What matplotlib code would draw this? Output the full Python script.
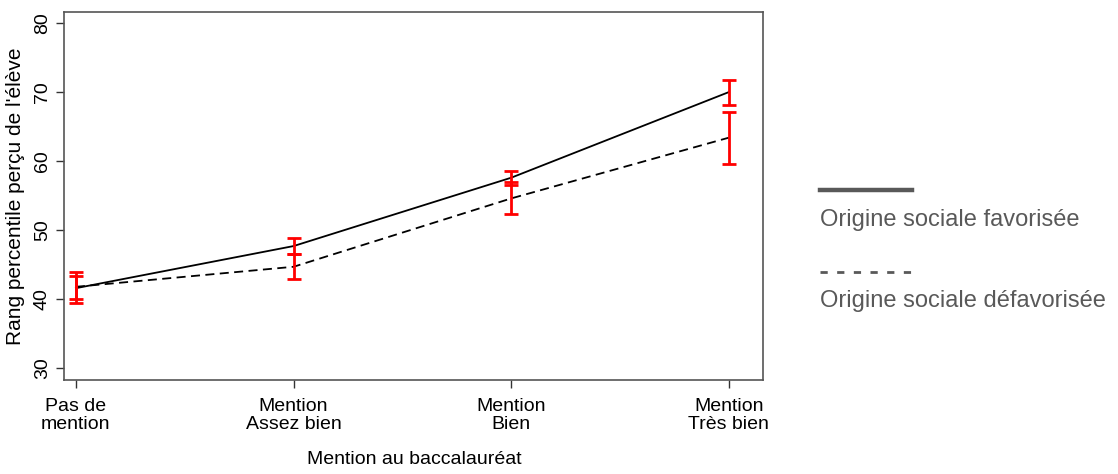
import numpy as np
import matplotlib.pyplot as plt
from matplotlib.lines import Line2D

plt.rcParams['font.family'] = ['Liberation Sans', 'DejaVu Sans']

# données
categories = ['Pas de\nmention', 'Mention\nAssez bien', 'Mention\nBien', 'Mention\nTrès bien']
fav = [41.6, 47.7, 57.6, 70.0]
fav_low = [40.0, 46.5, 56.6, 68.2]
fav_high = [43.3, 48.9, 58.6, 71.8]
defav = [41.8, 44.7, 54.6, 63.4]
defav_low = [39.5, 43.0, 52.3, 59.6]
defav_high = [44.0, 46.5, 57.0, 67.1]
yticks = [30, 40, 50, 60, 70, 80]

fig = plt.figure(figsize=(11.18, 4.74), dpi=100)
ax = fig.add_axes([0.0572, 0.1983, 0.6253, 0.7764])

x = np.arange(len(categories))
fav = np.array(fav)
defav = np.array(defav)

ax.plot(x, fav, color='black', lw=1.3, zorder=3)
ax.plot(x, defav, color='black', lw=1.3, ls=(0, (5, 3)), zorder=3)

# intervalles de confiance
ax.errorbar(x, fav, yerr=[fav - np.array(fav_low), np.array(fav_high) - fav],
            fmt='none', ecolor='red', elinewidth=2, capsize=5, capthick=2, zorder=4)
ax.errorbar(x, defav, yerr=[defav - np.array(defav_low), np.array(defav_high) - defav],
            fmt='none', ecolor='red', elinewidth=2, capsize=5, capthick=2, zorder=4)

ax.set_xlim(-0.055, 3.157)
ax.set_ylim(28.3, 81.6)
ax.set_xticks(x)
ax.set_xticklabels(categories, fontsize=14, linespacing=1.1)
ax.set_yticks(yticks)
ax.set_yticklabels([str(v) for v in yticks], fontsize=14, rotation=90, va='center')
ax.tick_params(axis='both', direction='out', length=6, width=1, color='#333333')
ax.tick_params(axis='x', pad=7)
for sp in ax.spines.values():
    sp.set_color('#555555')
    sp.set_linewidth(1.2)

ax.set_ylabel("Rang percentile perçu de l'élève", fontsize=15, labelpad=6)
fig.text(0.371, 0.012, 'Mention au baccalauréat', fontsize=14, ha='center', va='bottom')

# légende manuelle
fig.add_artist(Line2D([820 / 1118, 912 / 1118], [1 - 190 / 474, 1 - 190 / 474],
                      color='#595959', lw=3.2, transform=fig.transFigure))
fig.text(820 / 1118, 1 - 220 / 474, 'Origine sociale favorisée', fontsize=17,
         color='#595959', va='center', ha='left')
fig.add_artist(Line2D([820 / 1118, 912 / 1118], [1 - 272 / 474, 1 - 272 / 474],
                      color='#595959', lw=2, ls=(0, (2.6, 3.4)), transform=fig.transFigure))
fig.text(820 / 1118, 1 - 301 / 474, 'Origine sociale défavorisée', fontsize=17,
         color='#595959', va='center', ha='left')

fig.savefig('out.png', dpi=100)
